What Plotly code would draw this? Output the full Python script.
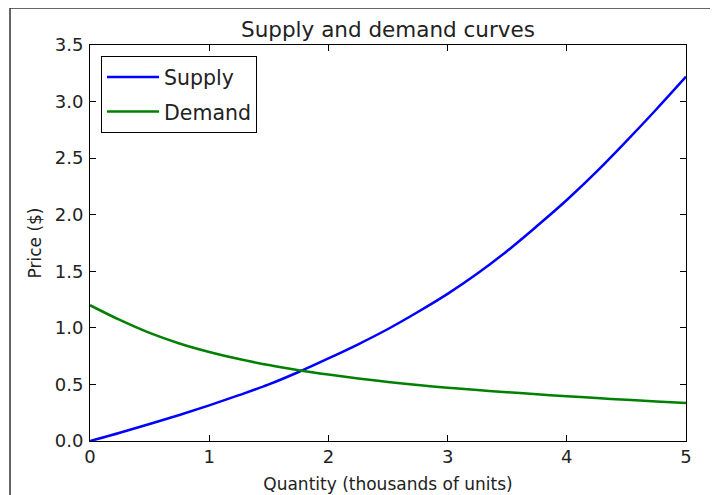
import plotly.graph_objects as go

quantity = [0, 0.25, 0.5, 0.75, 1, 1.25, 1.5, 1.75, 2, 2.25, 2.5, 2.75,
            3, 3.25, 3.5, 3.75, 4, 4.25, 4.5, 4.75, 5]
supply = [0, 0.073, 0.15, 0.23, 0.315, 0.405, 0.50, 0.61, 0.73, 0.855, 0.99,
          1.14, 1.30, 1.48, 1.68, 1.90, 2.13, 2.38, 2.65, 2.93, 3.22]
demand = [1.2, 1.07, 0.955, 0.862, 0.787, 0.724, 0.671, 0.626, 0.587, 0.552,
          0.522, 0.495, 0.471, 0.45, 0.431, 0.413, 0.396, 0.38, 0.364, 0.349, 0.335]

x_ticks = [0, 1, 2, 3, 4, 5]
y_ticks = [0.0, 0.5, 1.0, 1.5, 2.0, 2.5, 3.0, 3.5]

FONT = "DejaVu Sans"
TXT = "#222222"

fig = go.Figure()
fig.add_trace(go.Scatter(x=quantity, y=supply, mode="lines", name="Supply",
                         line=dict(color="#0000ff", width=2.5, shape="spline"),
                         legendgroup="s"))
fig.add_trace(go.Scatter(x=quantity, y=demand, mode="lines", name="Demand",
                         line=dict(color="#008000", width=2.5, shape="spline"),
                         legendgroup="d"))

axis_common = dict(showgrid=False, zeroline=False, showline=True, linecolor="black",
                   linewidth=1, mirror="ticks", ticks="inside", ticklen=6,
                   tickcolor="black", tickwidth=1,
                   tickfont=dict(family=FONT, size=18, color=TXT))

fig.update_xaxes(range=[0, 5], tickvals=x_ticks, ticktext=[str(v) for v in x_ticks],
                 title=dict(text="Quantity (thousands of units)",
                            font=dict(family=FONT, size=17, color=TXT), standoff=12),
                 ticklabelstandoff=-1, **axis_common)
fig.update_yaxes(range=[0, 3.5], tickvals=y_ticks, ticktext=[f"{v:.1f}" for v in y_ticks],
                 title=dict(text="Price ($)", font=dict(family=FONT, size=17, color=TXT),
                            standoff=8),
                 ticklabelstandoff=2, **axis_common)

fig.update_layout(
    width=710, height=487,
    margin=dict(l=82, r=32, t=37, b=54, autoexpand=False),
    paper_bgcolor="white", plot_bgcolor="white",
    font=dict(family=FONT, size=17, color=TXT),
    title=dict(text="Supply and demand curves", x=0.5, xref="paper",
               y=1 - 21 / 487, yref="container", yanchor="middle",
               font=dict(family=FONT, size=21.5, color=TXT)),
    showlegend=True,
    legend=dict(x=0.0185, y=0.972, xanchor="left", yanchor="top",
                bordercolor="black", borderwidth=1, bgcolor="white",
                font=dict(family=FONT, size=20.5, color=TXT),
                tracegroupgap=5, itemwidth=52),
    shapes=[
        dict(type="line", xref="paper", yref="paper", x0=-0.1342, x1=1.06,
             y0=1.0934, y1=1.0934, line=dict(color="#333333", width=1.5)),
        dict(type="line", xref="paper", yref="paper", x0=-0.1342, x1=-0.1342,
             y0=1.0934, y1=-0.14, line=dict(color="#333333", width=1.5)),
    ],
)

fig.write_html("out.html")
